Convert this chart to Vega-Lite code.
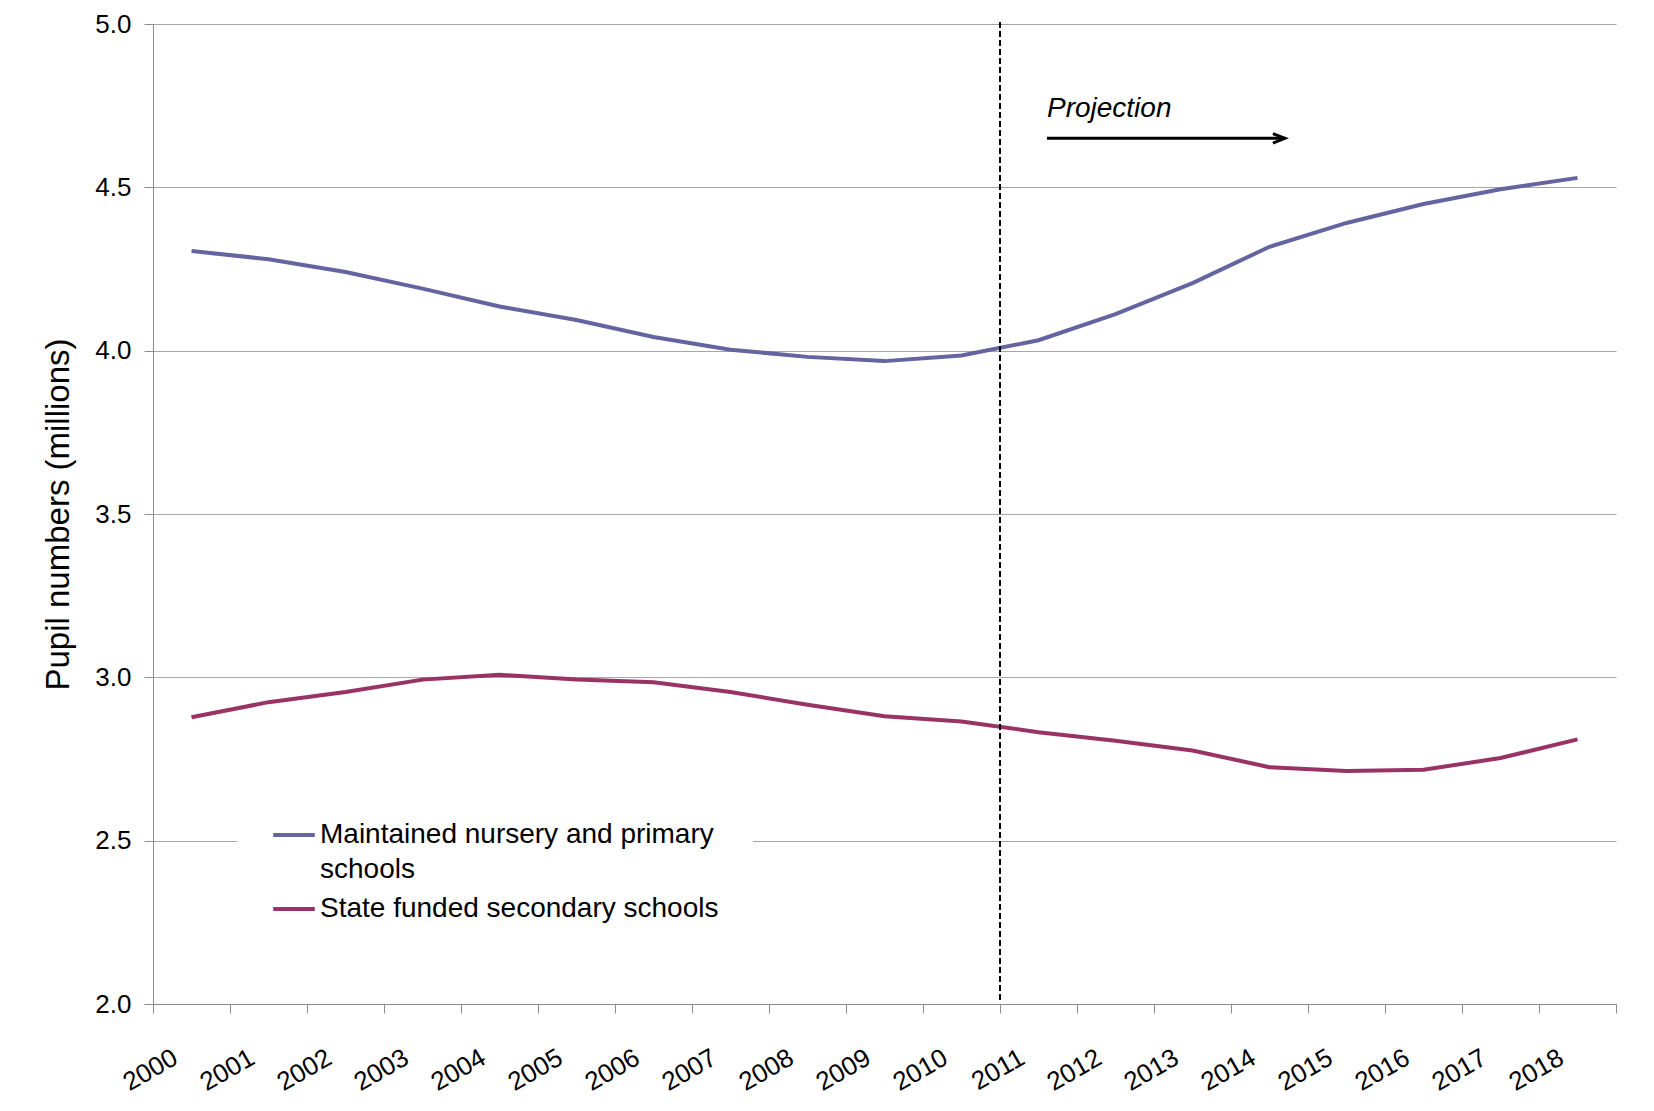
{
  "$schema": "https://vega.github.io/schema/vega-lite/v6.json",
  "width": 1463,
  "height": 980,
  "autosize": {"type": "none"},
  "padding": {"left": 153, "top": 24, "right": 38, "bottom": 107},
  "background": "white",
  "config": {
    "view": {"stroke": null},
    "font": "Liberation Sans",
    "style": {"guide-label": {"lineHeight": 35}}
  },
  "datasets": {
    "pupils": [
      {"year": "2000", "series": "Maintained nursery and primary schools", "value": 4.305},
      {"year": "2001", "series": "Maintained nursery and primary schools", "value": 4.280},
      {"year": "2002", "series": "Maintained nursery and primary schools", "value": 4.241},
      {"year": "2003", "series": "Maintained nursery and primary schools", "value": 4.190},
      {"year": "2004", "series": "Maintained nursery and primary schools", "value": 4.135},
      {"year": "2005", "series": "Maintained nursery and primary schools", "value": 4.094},
      {"year": "2006", "series": "Maintained nursery and primary schools", "value": 4.042},
      {"year": "2007", "series": "Maintained nursery and primary schools", "value": 4.003},
      {"year": "2008", "series": "Maintained nursery and primary schools", "value": 3.981},
      {"year": "2009", "series": "Maintained nursery and primary schools", "value": 3.968},
      {"year": "2010", "series": "Maintained nursery and primary schools", "value": 3.985},
      {"year": "2011", "series": "Maintained nursery and primary schools", "value": 4.032},
      {"year": "2012", "series": "Maintained nursery and primary schools", "value": 4.112},
      {"year": "2013", "series": "Maintained nursery and primary schools", "value": 4.207},
      {"year": "2014", "series": "Maintained nursery and primary schools", "value": 4.318},
      {"year": "2015", "series": "Maintained nursery and primary schools", "value": 4.391},
      {"year": "2016", "series": "Maintained nursery and primary schools", "value": 4.449},
      {"year": "2017", "series": "Maintained nursery and primary schools", "value": 4.494},
      {"year": "2018", "series": "Maintained nursery and primary schools", "value": 4.529},
      {"year": "2000", "series": "State funded secondary schools", "value": 2.878},
      {"year": "2001", "series": "State funded secondary schools", "value": 2.924},
      {"year": "2002", "series": "State funded secondary schools", "value": 2.955},
      {"year": "2003", "series": "State funded secondary schools", "value": 2.993},
      {"year": "2004", "series": "State funded secondary schools", "value": 3.008},
      {"year": "2005", "series": "State funded secondary schools", "value": 2.993},
      {"year": "2006", "series": "State funded secondary schools", "value": 2.985},
      {"year": "2007", "series": "State funded secondary schools", "value": 2.955},
      {"year": "2008", "series": "State funded secondary schools", "value": 2.916},
      {"year": "2009", "series": "State funded secondary schools", "value": 2.881},
      {"year": "2010", "series": "State funded secondary schools", "value": 2.865},
      {"year": "2011", "series": "State funded secondary schools", "value": 2.832},
      {"year": "2012", "series": "State funded secondary schools", "value": 2.806},
      {"year": "2013", "series": "State funded secondary schools", "value": 2.776},
      {"year": "2014", "series": "State funded secondary schools", "value": 2.725},
      {"year": "2015", "series": "State funded secondary schools", "value": 2.713},
      {"year": "2016", "series": "State funded secondary schools", "value": 2.717},
      {"year": "2017", "series": "State funded secondary schools", "value": 2.753},
      {"year": "2018", "series": "State funded secondary schools", "value": 2.810}
    ],
    "marker": [{"year": "2011", "lo": 2.012, "hi": 5.012}],
    "note": [{"from": "2011", "to": "2014", "arrowY": 4.65, "textY": 4.716, "label": "Projection"}]
  },
  "layer": [
    {
      "data": {"name": "pupils"},
      "mark": {"type": "line", "strokeWidth": 4},
      "encoding": {
        "x": {
          "field": "year",
          "type": "ordinal",
          "title": null,
          "scale": {"paddingInner": 0, "paddingOuter": 0},
          "axis": {
            "tickBand": "extent",
            "grid": false,
            "domainColor": "#8c8c8c",
            "tickColor": "#8c8c8c",
            "tickSize": 9,
            "labelAngle": -30,
            "labelAlign": "right",
            "labelBaseline": "top",
            "labelFontSize": 26,
            "labelColor": "black",
            "labelPadding": 31,
            "labelOffset": -23
          }
        },
        "y": {
          "field": "value",
          "type": "quantitative",
          "title": "Pupil numbers (millions)",
          "scale": {"domain": [2, 5], "zero": false, "nice": false},
          "axis": {
            "values": [2, 2.5, 3, 3.5, 4, 4.5, 5],
            "format": ".1f",
            "gridColor": "#a6a6a6",
            "domainColor": "#8c8c8c",
            "tickColor": "#8c8c8c",
            "tickSize": 9,
            "labelFontSize": 26,
            "labelColor": "black",
            "labelPadding": 13,
            "titleFontSize": 33,
            "titleFontWeight": "normal",
            "titleColor": "black",
            "titlePadding": 19
          }
        },
        "color": {
          "field": "series",
          "type": "nominal",
          "scale": {
            "domain": ["Maintained nursery and primary schools", "State funded secondary schools"],
            "range": ["#6464a0", "#993366"]
          },
          "legend": {
            "orient": "none",
            "legendX": 84,
            "legendY": 754,
            "title": null,
            "fillColor": "white",
            "padding": 34,
            "labelFontSize": 28,
            "labelColor": "black",
            "labelLimit": 0,
            "labelOffset": 3,
            "symbolType": "stroke",
            "symbolSize": 1730,
            "symbolStrokeWidth": 4,
            "labelExpr": "datum.label == 'Maintained nursery and primary schools' ? ['Maintained nursery and primary', 'schools'] : datum.label"
          }
        }
      }
    },
    {
      "data": {"name": "marker"},
      "mark": {"type": "rule", "color": "black", "strokeWidth": 2, "strokeDash": [6, 3], "clip": false},
      "encoding": {
        "x": {"field": "year", "type": "ordinal", "bandPosition": 0},
        "y": {"field": "lo", "type": "quantitative", "title": "Pupil numbers (millions)"},
        "y2": {"field": "hi"}
      }
    },
    {
      "data": {"name": "note"},
      "mark": {"type": "rule", "color": "black", "strokeWidth": 3},
      "encoding": {
        "x": {"field": "from", "type": "ordinal", "bandPosition": 0.61},
        "x2": {"field": "to", "bandPosition": 0.7},
        "y": {"field": "arrowY", "type": "quantitative", "title": "Pupil numbers (millions)"}
      }
    },
    {
      "data": {"name": "note"},
      "mark": {"type": "point", "shape": "M -1 -0.4 L 0 0 L -1 0.4", "size": 576, "filled": false, "color": "black", "strokeWidth": 3, "opacity": 1},
      "encoding": {
        "x": {"field": "to", "type": "ordinal", "bandPosition": 0.7},
        "y": {"field": "arrowY", "type": "quantitative", "title": "Pupil numbers (millions)"}
      }
    },
    {
      "data": {"name": "note"},
      "mark": {"type": "text", "align": "left", "baseline": "alphabetic", "fontStyle": "italic", "fontSize": 28, "color": "black"},
      "encoding": {
        "x": {"field": "from", "type": "ordinal", "bandPosition": 0.61},
        "y": {"field": "textY", "type": "quantitative", "title": "Pupil numbers (millions)"},
        "text": {"field": "label"}
      }
    }
  ]
}
